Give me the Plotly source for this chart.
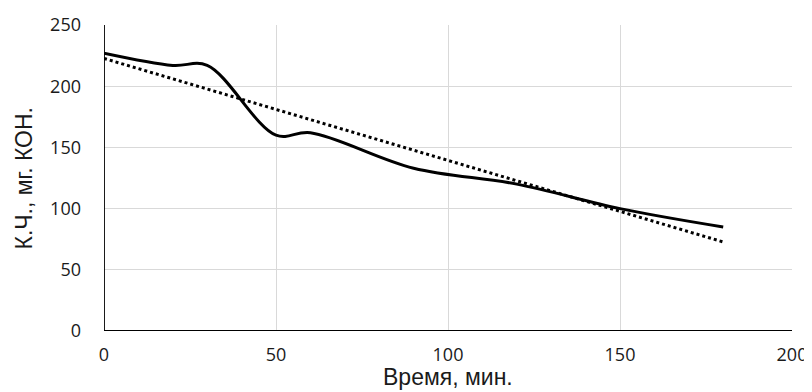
import numpy as np
import plotly.graph_objects as go

time_min = [0, 20, 30, 50, 60, 90, 120, 150, 180]
kch = [227, 217, 217, 160, 162, 133, 120, 100, 85]

x_ticks = [0, 50, 100, 150, 200]
y_ticks = [0, 50, 100, 150, 200, 250]

coef = np.polyfit(time_min, kch, 1)
trend_x = [time_min[0], time_min[-1]]
trend_y = [float(np.polyval(coef, v)) for v in trend_x]

fig = go.Figure()
fig.add_trace(go.Scatter(x=time_min, y=kch, mode="lines",
                         line=dict(color="black", width=3, shape="spline", smoothing=1.0),
                         showlegend=False))
fig.add_trace(go.Scatter(x=trend_x, y=trend_y, mode="lines",
                         line=dict(color="black", width=3, dash="dot"),
                         showlegend=False))

tickfont = dict(family="Open Sans, Liberation Sans, sans-serif", size=18, color="#1a1a1a")
# the page body has an 8px margin, so the figure is 8px smaller than the window
fig.update_layout(
    width=804, height=384,
    margin=dict(l=95.5, r=20, t=16.5, b=61),
    paper_bgcolor="white", plot_bgcolor="white",
    xaxis=dict(range=[0, 200], tickvals=x_ticks, showgrid=True, gridcolor="#d9d9d9", gridwidth=1.3,
               zeroline=False, showline=False, tickfont=tickfont, ticks="", ticklabelstandoff=11,
               fixedrange=True, automargin=False),
    yaxis=dict(range=[0, 250], tickvals=y_ticks, showgrid=True, gridcolor="#d9d9d9", gridwidth=1.3,
               zeroline=False, showline=False, tickfont=tickfont, ticks="", ticklabelstandoff=22,
               fixedrange=True, automargin=False),
    shapes=[
        dict(type="line", xref="x", yref="y", x0=0, x1=200, y0=0, y1=0,
             line=dict(color="black", width=1.8)),
        dict(type="line", xref="x", yref="y", x0=0, x1=0, y0=0, y1=250,
             line=dict(color="black", width=1.8)),
    ],
    annotations=[
        dict(text="Время, мин.", xref="paper", yref="paper", x=0.5, y=-0.2,
             xanchor="center", yanchor="bottom", showarrow=False,
             font=dict(family="Liberation Sans, Arial, sans-serif", size=23, color="#1a1a1a")),
        dict(text="К.Ч., мг. КОН.", xref="paper", yref="paper", x=-0.117, y=0.5,
             xanchor="center", yanchor="middle", showarrow=False, textangle=-90,
             font=dict(family="Liberation Sans, Arial, sans-serif", size=23, color="#1a1a1a")),
    ],
)
fig.write_html("out.html")
